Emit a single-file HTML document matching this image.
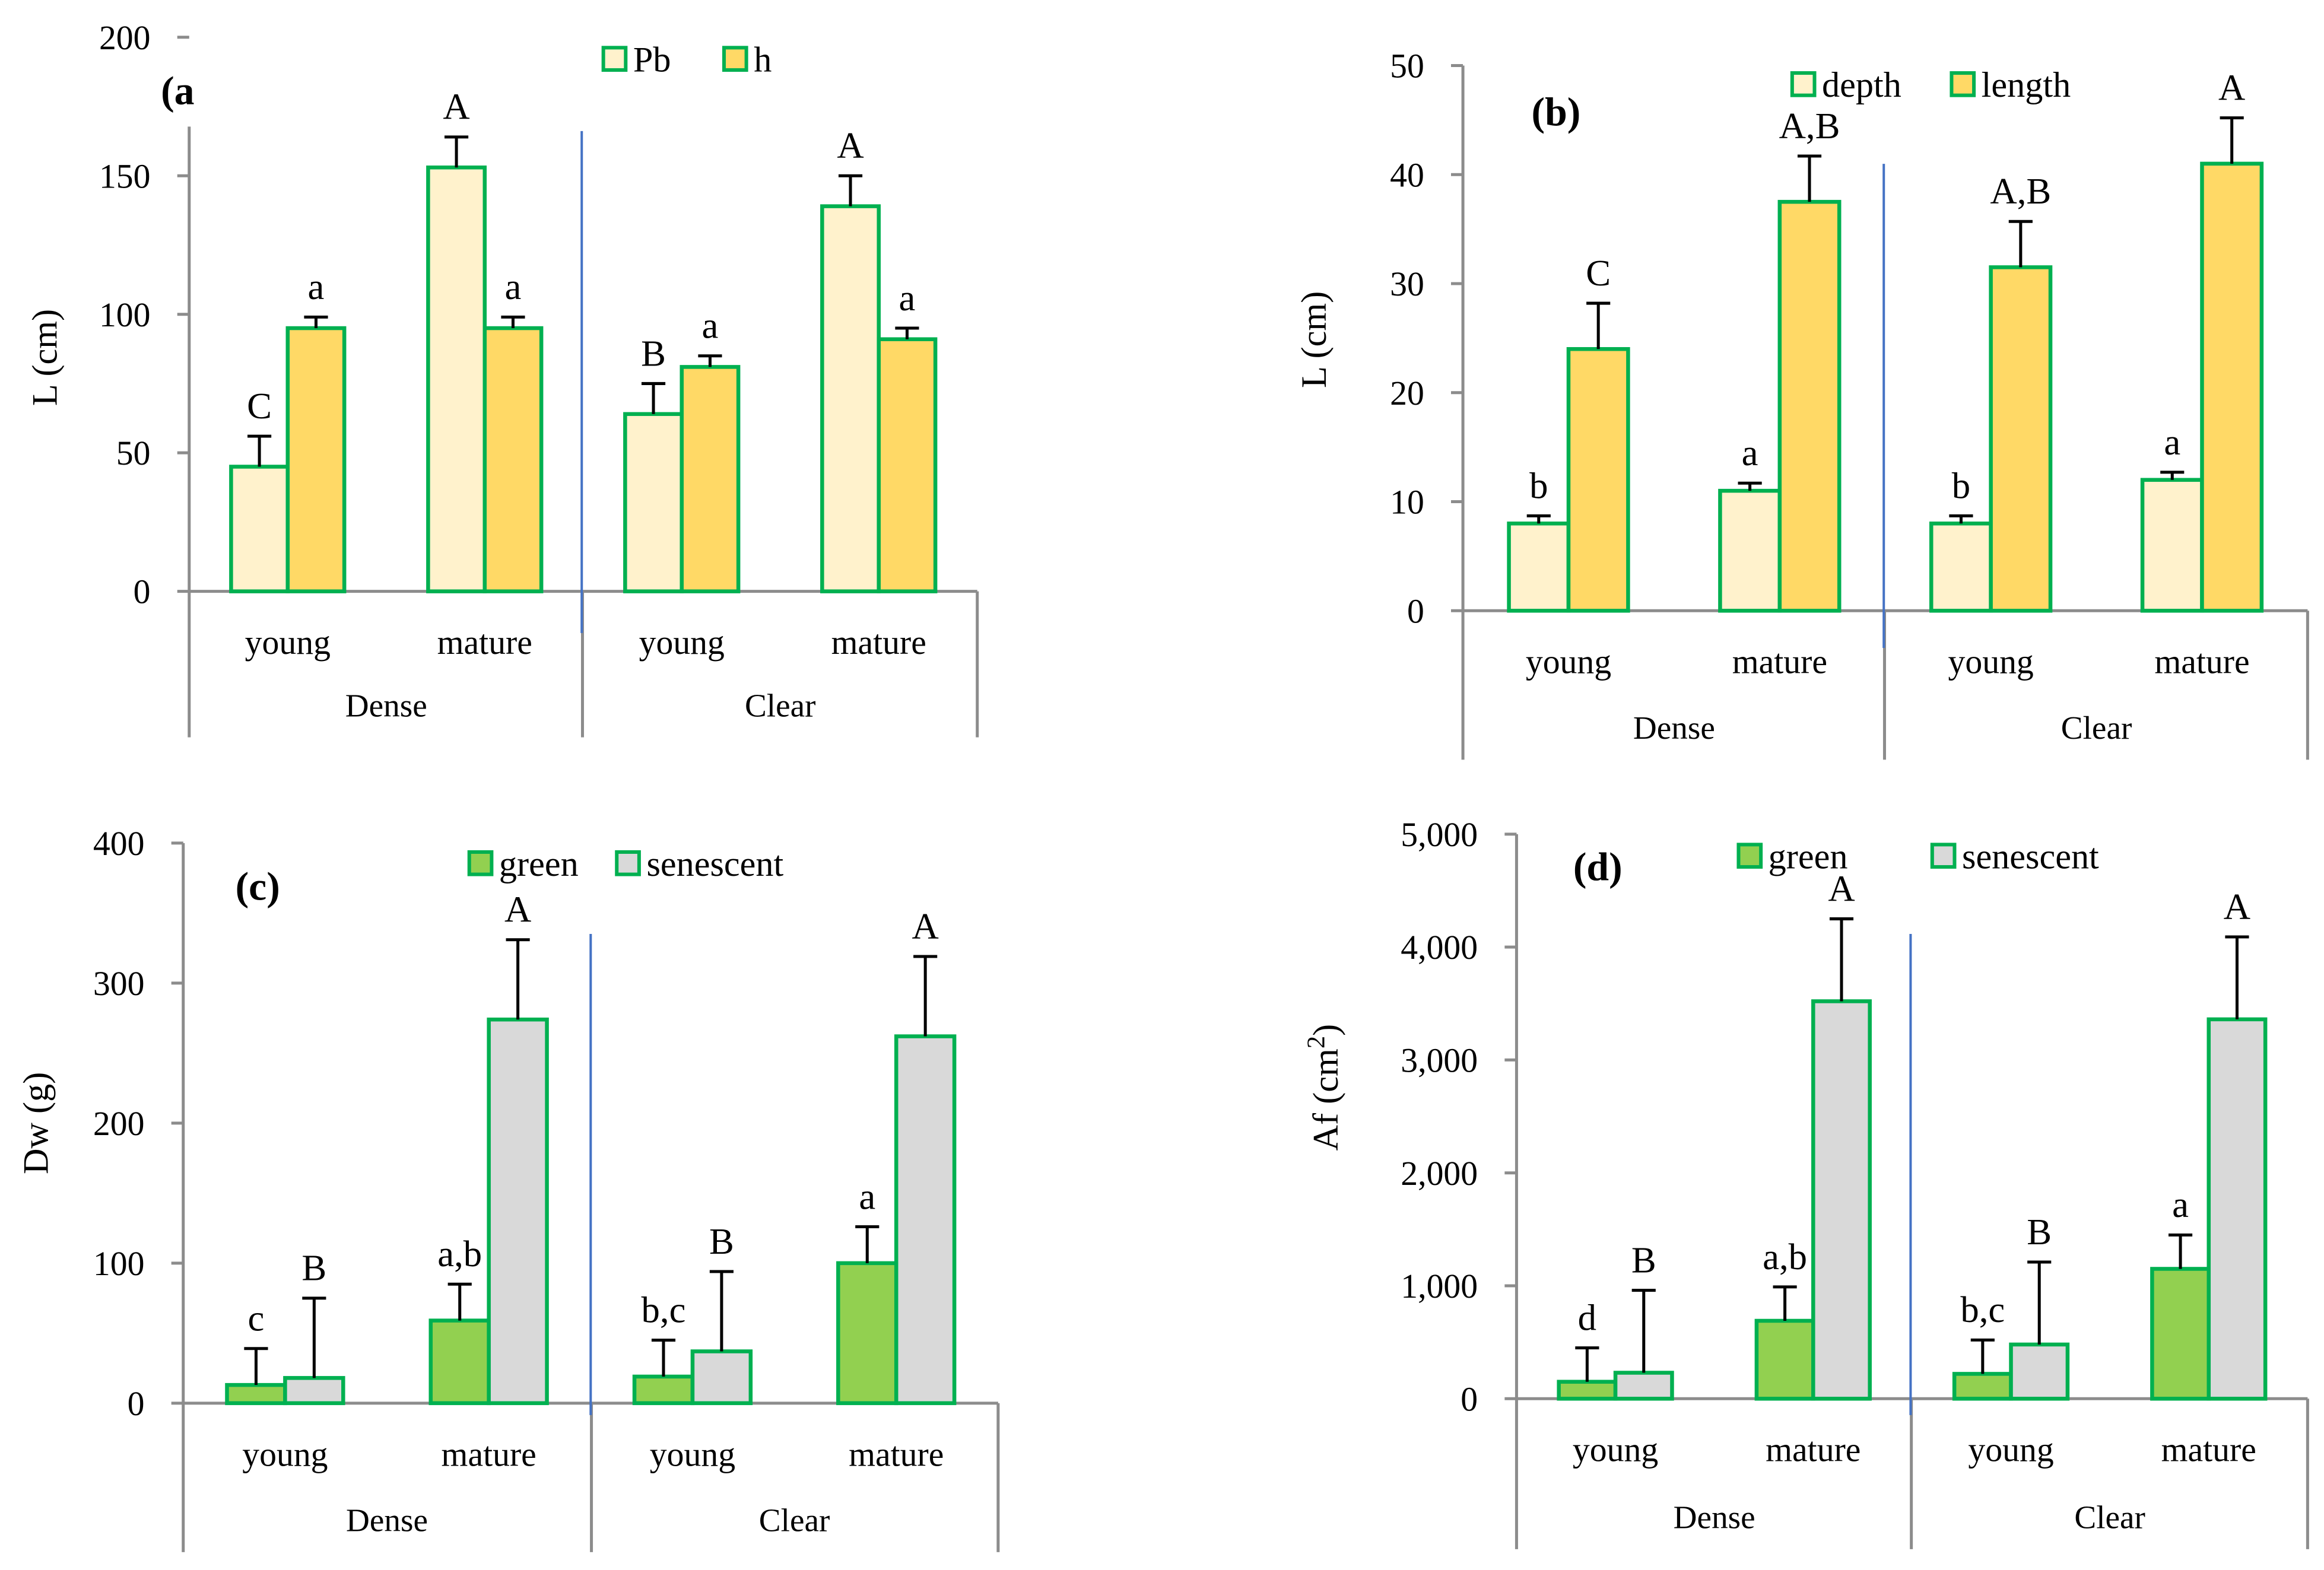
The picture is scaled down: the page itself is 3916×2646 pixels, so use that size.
<!DOCTYPE html>
<html><head><meta charset="utf-8"><style>
html,body{margin:0;padding:0;background:#fff;}
svg{display:block;font-family:"Liberation Serif",serif;}
</style></head><body>
<svg id="chart" xmlns="http://www.w3.org/2000/svg" width="3916" height="2646" viewBox="0 0 1560 1054" preserveAspectRatio="none"></svg>
<script>
// Panel a
const aCats = ["young","mature","young","mature"];
const aGroups = ["Dense","Clear"];
const aSeries = ["Pb","h"];
const aPb = [45,153,64,139];
const aPbErr = [11,11,11,11];
const aH = [95,95,81,91];
const aHErr = [4,4,4,4];
const aPbLbl = ["C","A","B","A"];
const aHLbl = ["a","a","a","a"];
const aTicks = [0,50,100,150,200];
// Panel b
const bSeries = ["depth","length"];
const bDepth = [8,11,8,12];
const bDepthErr = [0.7,0.7,0.7,0.7];
const bLength = [24,37.5,31.5,41];
const bLengthErr = [4.2,4.2,4.2,4.2];
const bDepthLbl = ["b","a","b","a"];
const bLengthLbl = ["C","A,B","A,B","A"];
const bTicks = [0,10,20,30,40,50];
// Panel c
const cSeries = ["green","senescent"];
const cGreen = [13,59,19,100];
const cGreenErr = [26,26,26,26];
const cSen = [18,274,37,262];
const cSenErr = [57,57,57,57];
const cGreenLbl = ["c","a,b","b,c","a"];
const cSenLbl = ["B","A","B","A"];
const cTicks = [0,100,200,300,400];
// Panel d
const dGreen = [150,690,220,1150];
const dGreenErr = [300,300,300,300];
const dSen = [230,3520,480,3360];
const dSenErr = [730,730,730,730];
const dGreenLbl = ["d","a,b","b,c","a"];
const dSenLbl = ["B","A","B","A"];
const dTicks = [0,1000,2000,3000,4000,5000];

const NS="http://www.w3.org/2000/svg";
const svg=document.getElementById('chart');
function mk(tag,attrs,parent,txt){const e=document.createElementNS(NS,tag);for(const k in attrs)e.setAttribute(k,attrs[k]);if(txt!==undefined)e.textContent=txt;(parent||svg).appendChild(e);return e;}
const fmt=v=>v.toLocaleString('en-US');

function panel(p){
  const g=mk('g',{});
  
  
  const y=v=>p.y0-(v-0)/p.max*(p.y0-p.ytop);
  const ax=mk('line',{x1:p.x0,y1:p.axTop,x2:p.x0,y2:p.bottom,stroke:'#8c8c8c','stroke-width':2},g);
  
  p.ticks.forEach(t=>{
    const tl=mk('line',{x1:p.x0-8,y1:y(t),x2:p.x0,y2:y(t),stroke:'#8c8c8c','stroke-width':2},g);
    
    const tx=mk('text',{x:p.x0-26,y:y(t)+8,'text-anchor':'end','font-size':23},g,fmt(t));
    
  });
  const xa=mk('line',{x1:p.x0,y1:p.y0,x2:p.xend,y2:p.y0,stroke:'#8c8c8c','stroke-width':2},g);
  
  [p.sep,p.xend].forEach(sx=>{
    const l=mk('line',{x1:sx,y1:p.y0,x2:sx,y2:p.bottom,stroke:'#8c8c8c','stroke-width':2},g);
    
  });
  const bl=mk('line',{x1:p.sep-0.5,y1:p.blueTop,x2:p.sep-0.5,y2:p.blueBot,stroke:'#4472c4','stroke-width':1.6},g);
  
  const slot=(p.xend-p.x0)/4;
  aCats.forEach((c,i)=>{
    const cx=p.x0+slot*(i+0.5)+p.shift;
    [[p.s1,p.e1,p.l1,p.f1],[p.s2,p.e2,p.l2,p.f2]].forEach((s,j)=>{
      const x=j===0?cx-p.bw:cx;
      const v=s[0][i],e=s[1][i];
      const r=mk('rect',{x:x,y:y(v),width:p.bw,height:p.y0-y(v),fill:s[3],stroke:'#00b050','stroke-width':2.6},g);
      
      const ex=x+p.bw/2;
      const el=mk('path',{d:`M${ex},${y(v)} V${y(v+e)} M${ex-8},${y(v+e)} H${ex+8}`,stroke:'#000','stroke-width':2,fill:'none'},g);
      
      const lt=mk('text',{x:ex,y:y(v+e)-12,'text-anchor':'middle','font-size':25},g,s[2][i]);
      
    });
    const ct=mk('text',{x:cx,y:p.y0+42,'text-anchor':'middle','font-size':23},g,c);
    
  });
  aGroups.forEach((gr,i)=>{
    const gt=mk('text',{x:p.x0+slot*(2*i+1),y:p.bottom-14,'text-anchor':'middle','font-size':22},g,gr);
    
  });
  p.legend.forEach((L,j)=>{
    const lr=mk('rect',{x:L[0],y:L[1]-8,width:15,height:15,fill:j===0?p.f1:p.f2,stroke:'#00b050','stroke-width':2.4},g);
    
    const lt=mk('text',{x:L[0]+20,y:L[1]+8,'font-size':24},g,p.series[j]);
    
  });
  const tt=mk('text',{x:p.title[0],y:p.title[1],'font-size':27,'font-weight':'bold'},g,p.title[2]);
  
  const yl=mk('text',{x:0,y:0,transform:`translate(${p.ylab[0]},${p.ylab[1]}) rotate(-90)`,'text-anchor':'middle','font-size':24},g);
  
  if(p.sup){yl.appendChild(document.createTextNode('Af (cm'));mk('tspan',{dy:-9,'font-size':17},yl,'2');mk('tspan',{dy:9},yl,')');}
  else yl.textContent=p.ylabText;
}
panel({name:'panel-a',x0:127,xend:656,y0:397,ytop:25,max:200,axTop:85,bottom:495,sep:391,blueTop:88,blueBot:425,shift:0,bw:38,
  ticks:aTicks,s1:aPb,e1:aPbErr,l1:aPbLbl,f1:'#fff2cc',s2:aH,e2:aHErr,l2:aHLbl,f2:'#ffd966',series:aSeries,
  legend:[[405,40],[486,40]],title:[108,70,'(a'],ylab:[38,240],ylabText:'L (cm)'});
panel({name:'panel-b',x0:982,xend:1549,y0:410,ytop:44,max:50,axTop:44,bottom:510,sep:1265,blueTop:110,blueBot:435,shift:0,bw:40,
  ticks:bTicks,s1:bDepth,e1:bDepthErr,l1:bDepthLbl,f1:'#fff2cc',s2:bLength,e2:bLengthErr,l2:bLengthLbl,f2:'#ffd966',series:bSeries,
  legend:[[1203,57],[1310,57]],title:[1028,84,'(b)'],ylab:[890,228],ylabText:'L (cm)'});
panel({name:'panel-c',x0:123,xend:670,y0:942,ytop:566,max:400,axTop:566,bottom:1042,sep:397,blueTop:627,blueBot:950,shift:0,bw:39,
  ticks:cTicks,s1:cGreen,e1:cGreenErr,l1:cGreenLbl,f1:'#92d050',s2:cSen,e2:cSenErr,l2:cSenLbl,f2:'#d9d9d9',series:cSeries,
  legend:[[315,580],[414,580]],title:[158,604,'(c)'],ylab:[32,754],ylabText:'Dw (g)'});
panel({name:'panel-d',x0:1018,xend:1549,y0:939,ytop:560,max:5000,axTop:560,bottom:1040,sep:1283,blueTop:627,blueBot:950,shift:0,bw:38,
  ticks:dTicks,s1:dGreen,e1:dGreenErr,l1:dGreenLbl,f1:'#92d050',s2:dSen,e2:dSenErr,l2:dSenLbl,f2:'#d9d9d9',series:cSeries,
  legend:[[1167,575],[1297,575]],title:[1056,591,'(d)'],ylab:[898,730],sup:true});
</script>
</body></html>
